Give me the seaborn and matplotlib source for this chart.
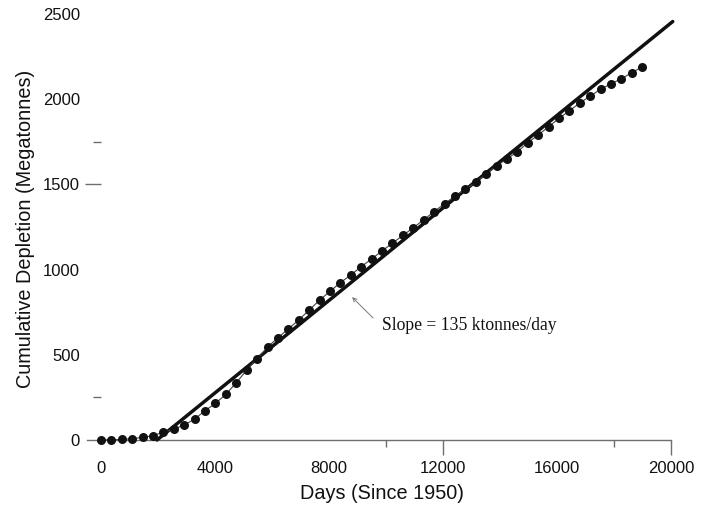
import matplotlib
matplotlib.use("Agg")
import matplotlib.pyplot as plt
import seaborn as sns
import pandas as pd

# ---- data -------------------------------------------------------------
days = [0, 365, 730, 1096, 1461, 1826, 2191, 2557, 2922, 3287, 3652, 4018,
        4383, 4748, 5113, 5479, 5844, 6209, 6574, 6940, 7305, 7670, 8035,
        8401, 8766, 9131, 9496, 9862, 10227, 10592, 10957, 11323, 11688,
        12053, 12418, 12784, 13149, 13514, 13879, 14245, 14610, 14975,
        15340, 15706, 16071, 16436, 16801, 17167, 17532, 17897, 18262,
        18628, 18993]
depletion = [0, 1, 3, 8, 15, 26, 45, 64, 88, 123, 172, 215, 268, 336, 410,
             478, 545, 600, 652, 704, 763, 820, 872, 923, 968, 1017, 1062,
             1109, 1155, 1200, 1245, 1292, 1340, 1386, 1431, 1471, 1512,
             1561, 1608, 1649, 1691, 1744, 1789, 1838, 1887, 1932, 1977,
             2018, 2058, 2090, 2120, 2155, 2190]
fit_days = [1965, 20060]
fit_depletion = [0, 2455]
x_ticks = [0, 4000, 8000, 12000, 16000, 20000]
y_ticks = [0, 500, 1000, 1500, 2000, 2500]
annotation = "Slope = 135 ktonnes/day"

obs = pd.DataFrame({"days": days, "depl": depletion})
fit = pd.DataFrame({"days": fit_days, "depl": fit_depletion})

# ---- figure -----------------------------------------------------------
sns.set_theme(style="white")
plt.rcParams["font.family"] = ["Liberation Sans", "DejaVu Sans"]

fig = plt.figure(figsize=(7.09, 5.11), dpi=100)
ax = fig.add_axes([0.1183, 0.1123, 0.8402, 0.8806])

sns.lineplot(data=fit, x="days", y="depl", ax=ax, color="#111111",
             linewidth=2.5, zorder=3)
sns.lineplot(data=obs, x="days", y="depl", ax=ax, color="#444444",
             linewidth=0.8, marker="o", markersize=6.5,
             markerfacecolor="#111111", markeredgecolor="#111111",
             markeredgewidth=0, zorder=4)

ax.set_xlim(-600, 20300)
ax.set_ylim(-80, 2560)

# spines
for s in ["top", "right"]:
    ax.spines[s].set_visible(False)
ax.spines["left"].set_position(("data", 0))
ax.spines["left"].set_visible(False)
ax.spines["bottom"].set_position(("data", 0))
ax.spines["bottom"].set_bounds(-480, 20000)
ax.spines["bottom"].set_color("#6e6e6e")
ax.spines["bottom"].set_linewidth(1.0)

# ticks
ax.set_xticks(x_ticks)
ax.set_xticklabels([str(v) for v in x_ticks])
ax.set_yticks(y_ticks)
ax.set_yticklabels([str(v) for v in y_ticks])
ax.set_xticks([10000, 18000], minor=True)
ax.set_yticks([250, 1750], minor=True)

ax.tick_params(axis="x", which="major", direction="out", length=10.8,
               width=1.0, color="#6e6e6e", pad=4, labelsize=12,
               labelcolor="#111111", bottom=True)
ax.tick_params(axis="x", which="minor", direction="out", length=5.2,
               width=1.0, color="#6e6e6e", bottom=True)
ax.tick_params(axis="y", which="major", direction="out", length=11.5,
               width=1.0, color="#6e6e6e", pad=3.6, labelsize=12,
               labelcolor="#111111", left=True)
ax.tick_params(axis="y", which="minor", direction="out", length=5.8,
               width=1.0, color="#6e6e6e", left=True)

for val, t in zip(x_ticks, ax.xaxis.get_major_ticks()):
    t.tick1line.set_visible(val in (12000, 20000))
for val, t in zip(y_ticks, ax.yaxis.get_major_ticks()):
    t.tick1line.set_visible(val == 1500)

ax.set_xlabel("Days (Since 1950)", fontsize=14.3, color="#111111",
              labelpad=6)
ax.set_ylabel("Cumulative Depletion (Megatonnes)", fontsize=14.3,
              color="#111111", labelpad=6)

# annotation
ax.annotate("", xy=(8810, 838), xytext=(9544, 716),
            arrowprops=dict(arrowstyle="->", color="#777777", lw=0.7,
                            shrinkA=0, shrinkB=0, mutation_scale=7))
ax.text(9850, 669, annotation, ha="left", va="center", fontsize=12.7,
        family=["Liberation Serif", "DejaVu Serif"], color="#111111")

fig.savefig("out.png", dpi=100, facecolor="white")
